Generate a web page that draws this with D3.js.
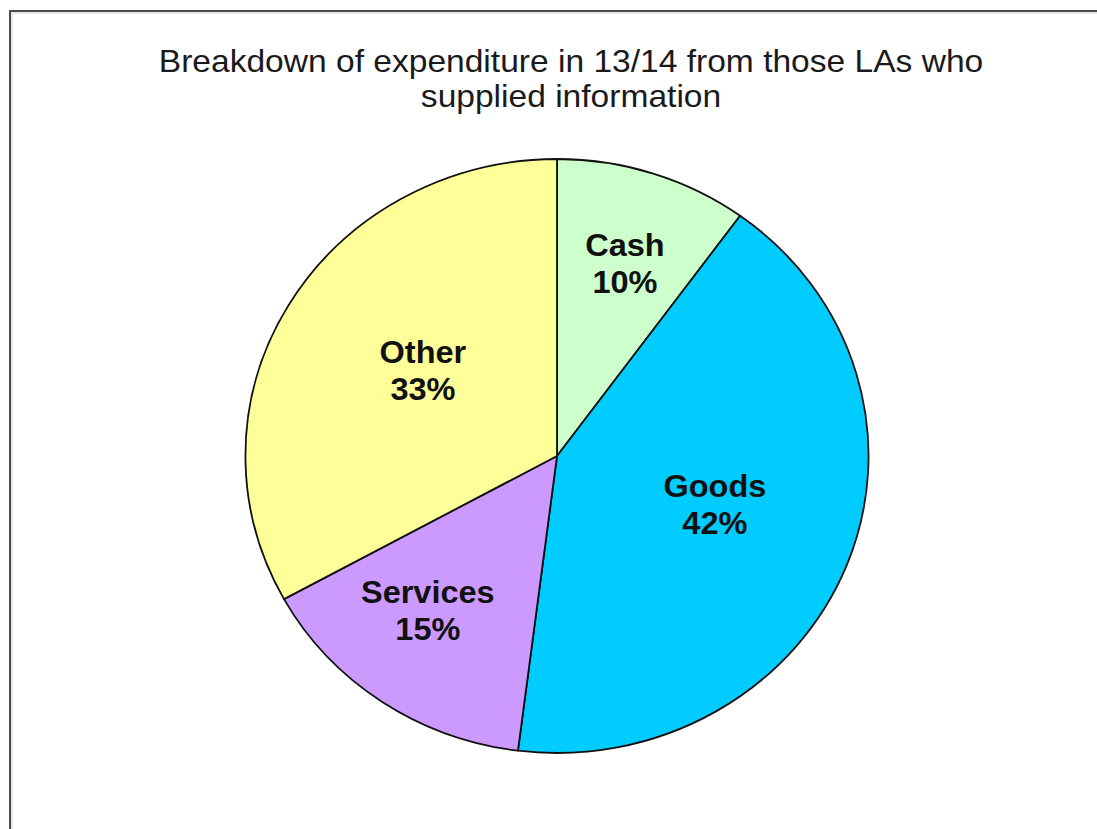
<!DOCTYPE html>
<html>
<head>
<meta charset="utf-8">
<script src="https://cdn.jsdelivr.net/npm/d3@7"></script>
<style>
  body { margin: 0; background: #fff; }
  svg { display: block; }
</style>
</head>
<body>
<script>
// data
var categories = ["Cash", "Goods", "Services", "Other"];
var shares = [10, 42, 15, 33];
var colours = ["#CCFFCC", "#00CCFF", "#CC99FF", "#FFFF99"];
var titleLines = ["Breakdown of expenditure in 13/14 from those LAs who", "supplied information"];

// layout only: label distance (fraction of radius) and angle nudge (degrees)
var labelPos = { Cash: 0.68, Goods: 0.534, Services: 0.669, Other: 0.515 };
var labelTurn = { Cash: 0.7, Goods: -3.2, Services: 4.1, Other: 2.7 };

function init() {
    var w = 1097;
    var h = 829;
    var cx = 557, cy = 456;
    var r = 297;
    var stretch = 1.049; // the original pie is slightly wider than tall

    var svg = d3.select("body")
                .append("svg")
                .attr("width", w)
                .attr("height", h);

    // frame, runs off right and bottom edge
    svg.append("rect")
        .attr("x", 10).attr("y", 11)
        .attr("width", w + 20).attr("height", h + 20)
        .attr("fill", "#fff")
        .attr("stroke", "#4a4a4a")
        .attr("stroke-width", 2);
    svg.append("rect")
        .attr("x", 12).attr("y", 13)
        .attr("width", w + 20).attr("height", h + 20)
        .attr("fill", "none")
        .attr("stroke", "#e6e6e6")
        .attr("stroke-width", 2);

    var font = "Liberation Sans, Arial, sans-serif";

    svg.selectAll("text.title")
        .data(titleLines)
        .enter()
        .append("text")
        .attr("class", "title")
        .attr("transform", function (d, i) {
            return "translate(571," + (72 + i * 35) + ") scale(" + stretch + ",1)";
        })
        .attr("text-anchor", "middle")
        .style("font-family", font)
        .style("font-size", "32px")
        .style("fill", "#1a1a1a")
        .text(function (d) { return d; });

    var data = categories.map(function (c, i) {
        return { name: c, value: shares[i], colour: colours[i] };
    });

    var pie = d3.pie().sort(null).value(function (d) { return d.value; });
    var arc = d3.arc().innerRadius(0).outerRadius(r);
    var arcs = pie(data);

    var g = svg.append("g")
        .attr("transform", "translate(" + cx + "," + cy + ") scale(" + stretch + ",1)");

    g.selectAll("path")
        .data(arcs)
        .enter()
        .append("path")
        .attr("d", arc)
        .attr("fill", function (d) { return d.data.colour; })
        .attr("stroke", "#111")
        .attr("stroke-width", 1.8)
        .attr("vector-effect", "non-scaling-stroke")
        .attr("stroke-linejoin", "round");

    var labels = svg.append("g")
        .attr("transform", "translate(" + cx + "," + cy + ")");

    var lab = labels.selectAll("g")
        .data(arcs)
        .enter()
        .append("g")
        .attr("transform", function (d) {
            var a = (d.startAngle + d.endAngle) / 2 + labelTurn[d.data.name] * Math.PI / 180;
            var lr = r * labelPos[d.data.name];
            return "translate(" + (Math.sin(a) * lr * stretch) + "," + (-Math.cos(a) * lr) + ") scale(" + stretch + ",1)";
        });

    lab.append("text")
        .attr("y", -9)
        .attr("text-anchor", "middle")
        .style("font-family", font)
        .style("font-weight", "bold")
        .style("font-size", "31px")
        .style("fill", "#111")
        .text(function (d) { return d.data.name; });

    lab.append("text")
        .attr("y", 28)
        .attr("text-anchor", "middle")
        .style("font-family", font)
        .style("font-weight", "bold")
        .style("font-size", "31px")
        .style("fill", "#111")
        .text(function (d) { return d.data.value + "%"; });
}
window.onload = init;
</script>
</body>
</html>
